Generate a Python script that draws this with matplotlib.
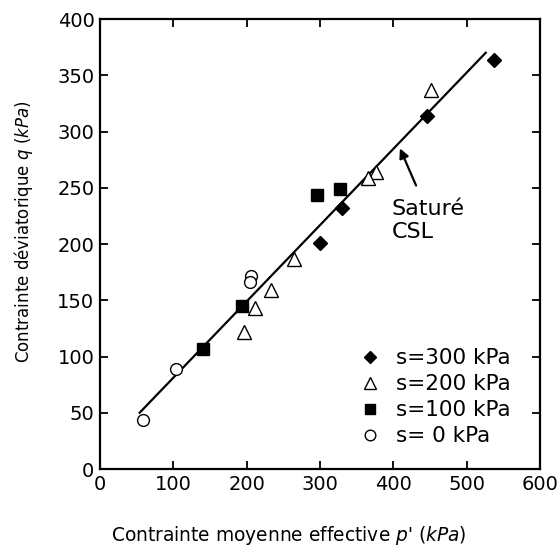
import matplotlib
matplotlib.use("Agg")
import matplotlib.pyplot as plt

# data
s300_p = [537, 446, 330, 300]
s300_q = [364, 314, 232, 201]
s200_p = [451, 377, 366, 264, 233, 212, 196]
s200_q = [337, 264, 259, 187, 159, 143, 122]
s100_p = [327, 296, 193, 141]
s100_q = [249, 244, 145, 107]
s0_p = [206, 204, 104, 59]
s0_q = [172, 166, 89, 44]
csl_p = [54, 526]
csl_q = [50, 370]

plt.rcParams['mathtext.fontset'] = 'dejavusans'
fig = plt.figure(figsize=(5.6, 5.46), dpi=100)
ax = fig.add_axes([0.1786, 0.141, 0.9643 - 0.1786, 0.9652 - 0.141])

ax.plot(csl_p, csl_q, color='black', lw=1.6)
ax.plot(s300_p, s300_q, 'D', color='black', ms=7, label='s=300 kPa')
ax.plot(s200_p, s200_q, '^', mfc='white', mec='black', mew=1.0, ms=10, label='s=200 kPa')
ax.plot(s100_p, s100_q, 's', color='black', ms=8, label='s=100 kPa')
ax.plot(s0_p, s0_q, 'o', mfc='white', mec='black', mew=1.0, ms=8.5, label='s= 0 kPa')

ax.annotate('', xy=(409, 285), xytext=(431, 252),
            arrowprops=dict(arrowstyle='-|>', color='black', lw=1.6, mutation_scale=14,
                            shrinkA=0, shrinkB=0))
ax.text(398, 240, 'Saturé\nCSL', fontsize=16, va='top', ha='left', linespacing=1.2)

ax.set_xlim(0, 600)
ax.set_ylim(0, 400)
ax.set_xticks(range(0, 601, 100))
ax.set_yticks(range(0, 401, 50))
ax.tick_params(direction='in', top=True, right=True, length=6, width=1.3, labelsize=14, pad=4)
for sp in ax.spines.values():
    sp.set_linewidth(1.6)

ax.set_xlabel("Contrainte moyenne effective $\\mathit{p}$' $\\mathit{(kPa)}$", fontsize=13.4)
ax.xaxis.set_label_coords((289 - 100) / 440, -(535 - 469) / 450)
ax.set_ylabel("Contrainte déviatorique $\\mathit{q}$ $\\mathit{(kPa)}$", fontsize=12)
ax.yaxis.set_label_coords(-(100 - 23) / 440, (469 - 232) / 450)
ax.xaxis.label.set_va('center')
ax.yaxis.label.set_va('center')

leg = ax.legend(loc='lower right', frameon=False, fontsize=15.5, markerscale=0.9,
                handlelength=1.0, handletextpad=0.7, labelspacing=0.28,
                bbox_to_anchor=(0.977, 0.007))

fig.savefig('out.png', dpi=100)
